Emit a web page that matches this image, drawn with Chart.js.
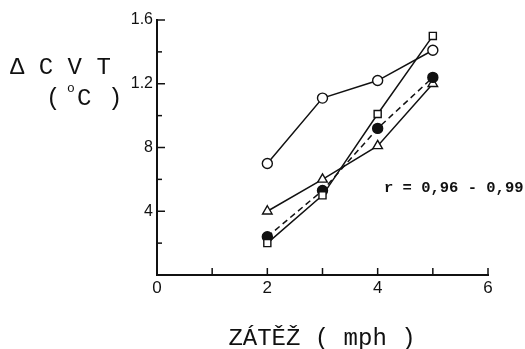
<!DOCTYPE html>
<html><head><meta charset="utf-8">
<script src="https://cdn.jsdelivr.net/npm/chart.js@4/dist/chart.umd.min.js"></script>
<style>html,body{margin:0;padding:0;background:#fff}#wrap{width:525px;height:349px;position:relative}</style>
</head><body><div id="wrap"><canvas id="c" width="525" height="349"></canvas></div>
<script>
const speeds = [2, 3, 4, 5];
const openCircle = [0.70, 1.11, 1.22, 1.41];
const openSquare = [0.20, 0.50, 1.01, 1.50];
const filledCircle = [0.24, 0.53, 0.92, 1.24];
const openTriangle = [0.40, 0.60, 0.81, 1.20];
const xTickLabels = {0: '0', 2: '2', 4: '4', 6: '6'};
const yTickLabels = {'0.4': '4', '0.8': '8', '1.2': '1.2', '1.6': '1.6'};
const yTitle1 = 'Δ C V T';
const xTitle = 'ZÁTĚŽ ( mph )';
const rText = 'r = 0,96 - 0,99';

const ink = '#111';
function pts(ys){ return speeds.map((x,i)=>({x, y: ys[i]})); }
function ds(ys, style, fill, dash){
  return {data: pts(ys), borderColor: ink, borderWidth: 1.5, borderDash: dash||[],
    pointStyle: style, pointRadius: style==='triangle'?5.5:5, pointBackgroundColor: fill,
    pointBorderColor: ink, pointBorderWidth: 1.4, tension: 0, fill: false};
}

const deco = {
  id: 'deco',
  afterDraw(chart){
    const ctx = chart.ctx, xs = chart.scales.x, ys = chart.scales.y;
    ctx.save();
    ctx.strokeStyle = ink; ctx.lineWidth = 1.5;
    for (let v = 1; v <= 6; v++){
      const px = xs.getPixelForValue(v);
      ctx.beginPath(); ctx.moveTo(px, ys.bottom); ctx.lineTo(px, ys.bottom - 7); ctx.stroke();
    }
    for (let k = 1; k <= 8; k++){
      const py = ys.getPixelForValue(k*0.2);
      ctx.beginPath(); ctx.moveTo(xs.left, py); ctx.lineTo(xs.left + (k%2===0?8:5), py); ctx.stroke();
    }
    ctx.fillStyle = ink;
    ctx.textBaseline = 'alphabetic'; ctx.textAlign = 'left';
    ctx.font = '24px "Liberation Mono", monospace';
    ctx.fillText(yTitle1, 10, 74);
    ctx.fillText('(', 46, 105);
    ctx.fillText('C', 77, 105);
    ctx.fillText(')', 108, 105);
    ctx.font = '13px "Liberation Mono", monospace';
    ctx.fillText('o', 67, 92);
    ctx.textAlign = 'center';
    ctx.font = '24px "Liberation Mono", monospace';
    ctx.fillText(xTitle, 322, 345);
    ctx.textAlign = 'left';
    ctx.font = 'bold 15.5px "Liberation Mono", monospace';
    ctx.fillText(rText, 384, 192);
    ctx.restore();
  }
};

new Chart(document.getElementById('c'), {
  type: 'line',
  data: { datasets: [
    ds(openCircle, 'circle', '#fff'),
    ds(openSquare, 'rect', '#fff'),
    ds(filledCircle, 'circle', ink, [6,4]),
    ds(openTriangle, 'triangle', '#fff')
  ]},
  options: {
    responsive: false, animation: false, devicePixelRatio: 1,
    layout: { padding: { left: 0, right: 37, top: 20, bottom: 0 } },
    plugins: { legend: {display: false}, tooltip: {enabled: false} },
    scales: {
      x: { type: 'linear', min: 0, max: 6,
        grid: {display: false, drawTicks: false, tickLength: 0}, border: {display: true, color: ink, width: 2},
        ticks: { stepSize: 1, autoSkip: false, maxRotation: 0, color: ink, padding: 3,
          font: {family: '"Liberation Sans", Arial, sans-serif', size: 17},
          callback: v => xTickLabels[v] ?? '' },
        afterFit: s => { s.height = 74; }
      },
      y: { type: 'linear', min: 0, max: 1.6,
        grid: {display: false, drawTicks: false, tickLength: 0}, border: {display: true, color: ink, width: 2},
        ticks: { stepSize: 0.2, autoSkip: false, color: ink, padding: 4,
          font: {family: '"Liberation Sans", Arial, sans-serif', size: 16},
          callback: v => yTickLabels[(Math.round(v*10)/10).toString()] ?? '' },
        afterFit: s => { s.width = 157; }
      }
    }
  },
  plugins: [deco]
});
</script></body></html>
